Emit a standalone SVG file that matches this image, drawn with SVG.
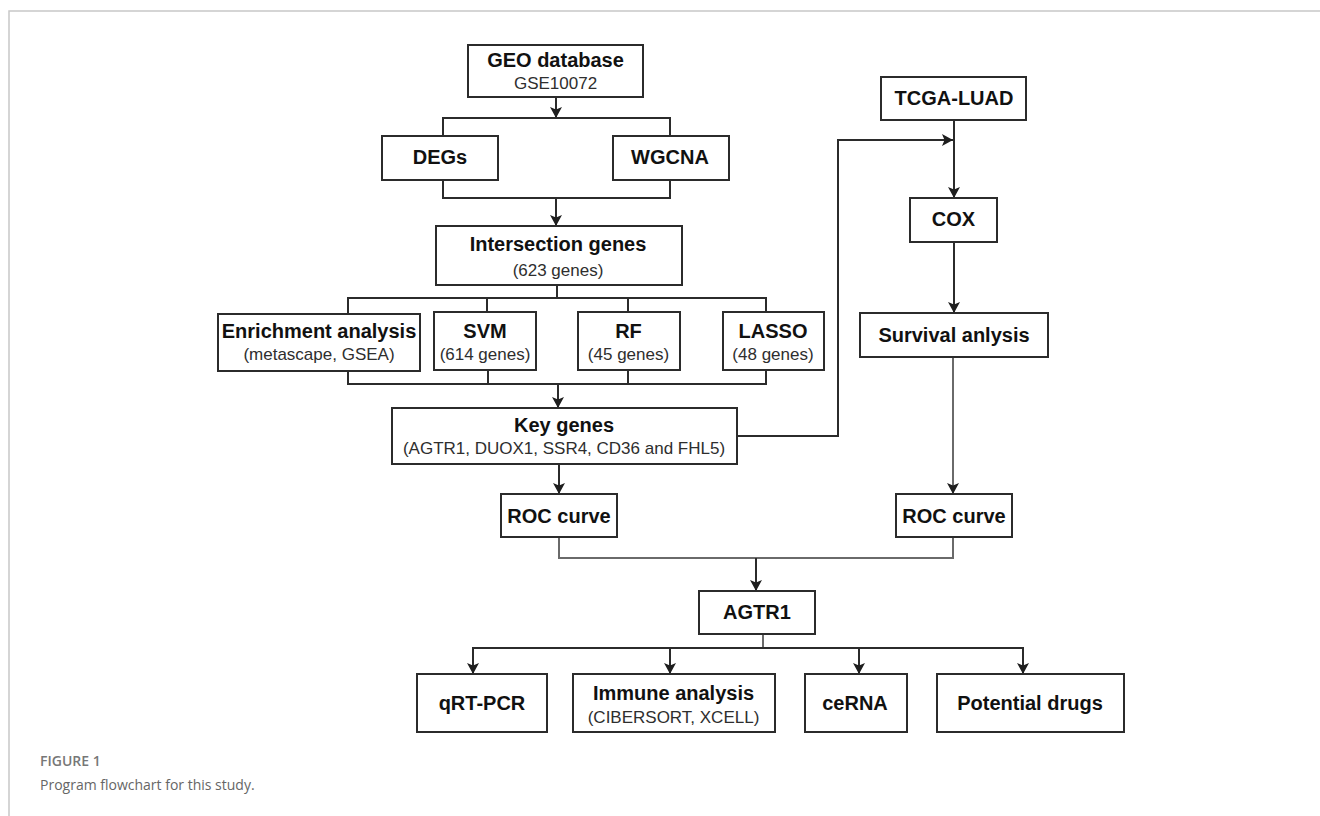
<svg xmlns="http://www.w3.org/2000/svg" width="1320" height="816" viewBox="0 0 1320 816">
<style>
.box{fill:#fff;stroke:#2b2b2b;stroke-width:2}
.t{font-family:"Liberation Sans",Arial,sans-serif;font-weight:bold;font-size:20px;fill:#111;text-anchor:middle}
.s{font-family:"Liberation Sans",Arial,sans-serif;font-size:17px;fill:#2e2e2e;text-anchor:middle}
.ln{fill:none;stroke:#2b2b2b;stroke-width:2}
.gr{fill:none;stroke:#6a6a6a;stroke-width:2}
.frame{fill:none;stroke:#c8c8c8;stroke-width:1.5}
.cap1{font-family:"Open Sans","Liberation Sans",sans-serif;font-weight:600;font-size:14px;fill:#777}
.cap2{font-family:"Open Sans","Liberation Sans",sans-serif;font-size:14px;fill:#666}
</style>
<defs>
<marker id="ah" viewBox="0 0 11 12" refX="11" refY="6" markerWidth="11" markerHeight="12" markerUnits="userSpaceOnUse" orient="auto">
<path d="M0,0 L11,6 L0,12 L2.5,6 z" fill="#1e1e1e"/>
</marker>
</defs>
<rect width="1320" height="816" fill="#fff"/>
<path class="frame" d="M9,816 V11 H1320"/>

<g id="connectors">
<path class="ln" d="M556,97 V118" marker-end="url(#ah)"/>
<path class="ln" d="M443,136 V118 H670 V136"/>
<path class="ln" d="M443,180 V198 H670 V180"/>
<path class="ln" d="M556,198 V226" marker-end="url(#ah)"/>
<path class="ln" d="M557,285 V298"/>
<path class="ln" d="M348,314 V298 H766 V312"/>
<path class="ln" d="M487,298 V312"/>
<path class="ln" d="M628,298 V312"/>
<path class="ln" d="M348,371 V384 H766 V370"/>
<path class="ln" d="M488,370 V384"/>
<path class="ln" d="M628,370 V384"/>
<path class="ln" d="M558,384 V408" marker-end="url(#ah)"/>
<path class="ln" d="M737,436 H838 V140 H953" marker-end="url(#ah)"/>
<path class="ln" d="M954,120 V198" marker-end="url(#ah)"/>
<path class="ln" d="M954,242 V313" marker-end="url(#ah)"/>
<path class="gr" d="M953,357 V494" marker-end="url(#ah)"/>
<path class="ln" d="M559,464 V494" marker-end="url(#ah)"/>
<path class="gr" d="M559,537 V558 H953 V537"/>
<path class="ln" d="M756,558 V591" marker-end="url(#ah)"/>
<path class="gr" d="M763,634 V648"/>
<path class="ln" d="M473,674 V648 H1023 V674" marker-end="url(#ah)"/>
<path class="ln" d="M473,648 V674" marker-end="url(#ah)"/>
<path class="ln" d="M670,648 V674" marker-end="url(#ah)"/>
<path class="ln" d="M859,648 V674" marker-end="url(#ah)"/>
</g>

<g id="geo"><rect class="box" x="468" y="45" width="175" height="52"/>
<text class="t" x="555.5" y="67">GEO database</text><text class="s" x="555.5" y="89">GSE10072</text></g>
<g id="degs"><rect class="box" x="382" y="136" width="116" height="44"/>
<text class="t" x="440" y="164">DEGs</text></g>
<g id="wgcna"><rect class="box" x="613" y="136" width="116" height="44"/>
<text class="t" x="670" y="164">WGCNA</text></g>
<g id="intersection"><rect class="box" x="436" y="226" width="246" height="59"/>
<text class="t" x="558" y="251">Intersection genes</text><text class="s" x="558" y="276">(623 genes)</text></g>
<g id="enrichment"><rect class="box" x="218" y="314" width="202" height="57"/>
<text class="t" x="319" y="338">Enrichment analysis</text><text class="s" x="319" y="359.5">(metascape, GSEA)</text></g>
<g id="svm"><rect class="box" x="434" y="312" width="102" height="58"/>
<text class="t" x="485" y="338">SVM</text><text class="s" x="485" y="359.5">(614 genes)</text></g>
<g id="rf"><rect class="box" x="578" y="312" width="102" height="58"/>
<text class="t" x="628.5" y="338">RF</text><text class="s" x="628.5" y="359.5">(45 genes)</text></g>
<g id="lasso"><rect class="box" x="723" y="312" width="101" height="58"/>
<text class="t" x="773" y="338">LASSO</text><text class="s" x="773" y="359.5">(48 genes)</text></g>
<g id="keygenes"><rect class="box" x="392" y="408" width="345" height="56"/>
<text class="t" x="564" y="432">Key genes</text><text class="s" x="564" y="453.5">(AGTR1, DUOX1, SSR4, CD36 and FHL5)</text></g>
<g id="tcga"><rect class="box" x="881" y="77" width="145" height="43"/>
<text class="t" x="954" y="105">TCGA-LUAD</text></g>
<g id="cox"><rect class="box" x="910" y="198" width="87" height="44"/>
<text class="t" x="953.5" y="226">COX</text></g>
<g id="survival"><rect class="box" x="860" y="313" width="188" height="44"/>
<text class="t" x="954" y="342">Survival anlysis</text></g>
<g id="roc-left"><rect class="box" x="501" y="494" width="116" height="43"/>
<text class="t" x="559" y="523">ROC curve</text></g>
<g id="roc-right"><rect class="box" x="896" y="494" width="116" height="43"/>
<text class="t" x="954" y="523">ROC curve</text></g>
<g id="agtr1"><rect class="box" x="699" y="591" width="116" height="43"/>
<text class="t" x="757" y="619">AGTR1</text></g>
<g id="qrtpcr"><rect class="box" x="417" y="674" width="130" height="58"/>
<text class="t" x="482" y="710">qRT-PCR</text></g>
<g id="immune"><rect class="box" x="573" y="674" width="202" height="58"/>
<text class="t" x="673.5" y="699.5">Immune analysis</text><text class="s" x="673.5" y="722.5">(CIBERSORT, XCELL)</text></g>
<g id="cerna"><rect class="box" x="805" y="674" width="102" height="58"/>
<text class="t" x="855" y="709.5">ceRNA</text></g>
<g id="drugs"><rect class="box" x="937" y="674" width="187" height="58"/>
<text class="t" x="1030" y="709.5">Potential drugs</text></g>

<text class="cap1" x="40" y="766">FIGURE 1</text>
<text class="cap2" x="40" y="790">Program flowchart for this study.</text>
</svg>
